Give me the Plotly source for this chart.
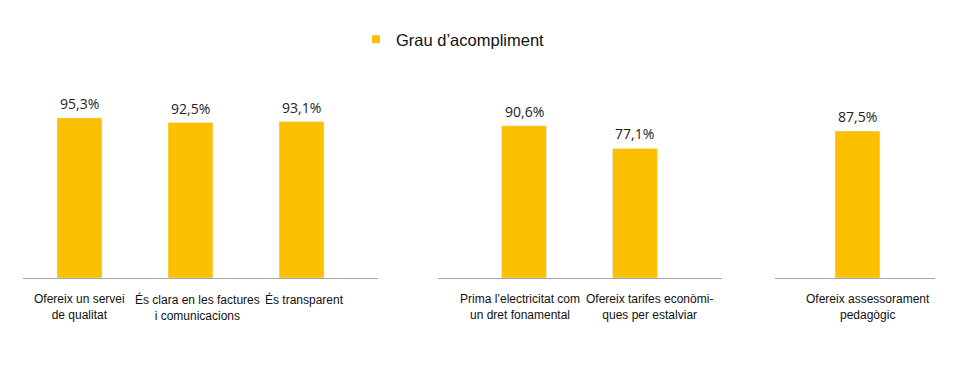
import plotly.graph_objects as go

# Data
panel1_labels = ["Ofereix un servei<br>de qualitat", "És clara en les factures<br>i comunicacions", "És transparent"]
panel1_values = [95.3, 92.5, 93.1]
panel2_labels = ["Prima l’electricitat com<br>un dret fonamental", "Ofereix tarifes econòmi-<br>ques per estalviar"]
panel2_values = [90.6, 77.1]
panel3_labels = ["Ofereix assessorament<br>pedagògic"]
panel3_values = [87.5]
series_name = "Grau d’acompliment"

# label horizontal nudges (style, px)
panel1_label_shift = [0, 7, 3]
panel2_label_shift = [-4, 15]
panel3_label_shift = [10]

W, H = 956, 384
BAR_COLOR = "#FBC000"

def px_x(p):
    return p / W

def px_y(p):
    return (H - p) / H

fig = go.Figure()

panels = [
    ("x", panel1_labels, panel1_values, panel1_label_shift, (23, 378), [-0.509, 2.689]),
    ("x2", panel2_labels, panel2_values, panel2_label_shift, (438, 722), [-0.775, 1.784]),
    ("x3", panel3_labels, panel3_values, panel3_label_shift, (775, 935), [-0.743, 0.698]),
]

for i, (xa, labels, values, shifts, dom, rng) in enumerate(panels):
    fig.add_trace(go.Bar(
        x=labels, y=values, xaxis=xa, yaxis="y",
        name=series_name, marker_color=BAR_COLOR, width=0.405,
        showlegend=False, legendgroup="g",
    ))
    for lab, v, s in zip(labels, values, shifts):
        fig.add_annotation(
            x=lab, y=v, xref=xa, yref="y", yanchor="bottom", yshift=3,
            text=f"{v:.1f}%".replace(".", ","), showarrow=False,
            font=dict(family="Open Sans", size=14, color="#222"),
        )
        fig.add_annotation(
            x=lab, y=0, xref=xa, yref="y", yanchor="top", yshift=-12, xshift=s,
            text=lab, showarrow=False, align="center",
            font=dict(family="Liberation Sans", size=12, color="#111"),
        )
    key = "xaxis" if xa == "x" else "xaxis" + xa[1:]
    fig.layout[key] = dict(
        domain=[px_x(dom[0]), px_x(dom[1])], range=rng, anchor="y",
        type="category", showline=True, linecolor="#A6A6A6", linewidth=1,
        showgrid=False, zeroline=False, ticks="", showticklabels=False,
        automargin=False, fixedrange=True,
    )

# legend entry (square key)
fig.add_trace(go.Scatter(
    x=[None], y=[None], mode="markers", name=series_name, legendgroup="g",
    marker=dict(symbol="square", size=8, color=BAR_COLOR), showlegend=True,
))

fig.update_layout(
    width=W, height=H,
    margin=dict(l=0, r=0, t=0, b=0, autoexpand=False),
    plot_bgcolor="white", paper_bgcolor="white",
    yaxis=dict(domain=[px_y(278), px_y(110)], range=[0, 100], visible=False,
               automargin=False, fixedrange=True),
    legend=dict(orientation="h", x=px_x(356), y=px_y(22), xanchor="left", yanchor="top",
                font=dict(family="Liberation Sans", size=16.5, color="#111"),
                itemwidth=30),
    showlegend=True,
)

fig.write_html("out.html", config={"displayModeBar": False},
               post_script="document.body.style.margin='0';")
